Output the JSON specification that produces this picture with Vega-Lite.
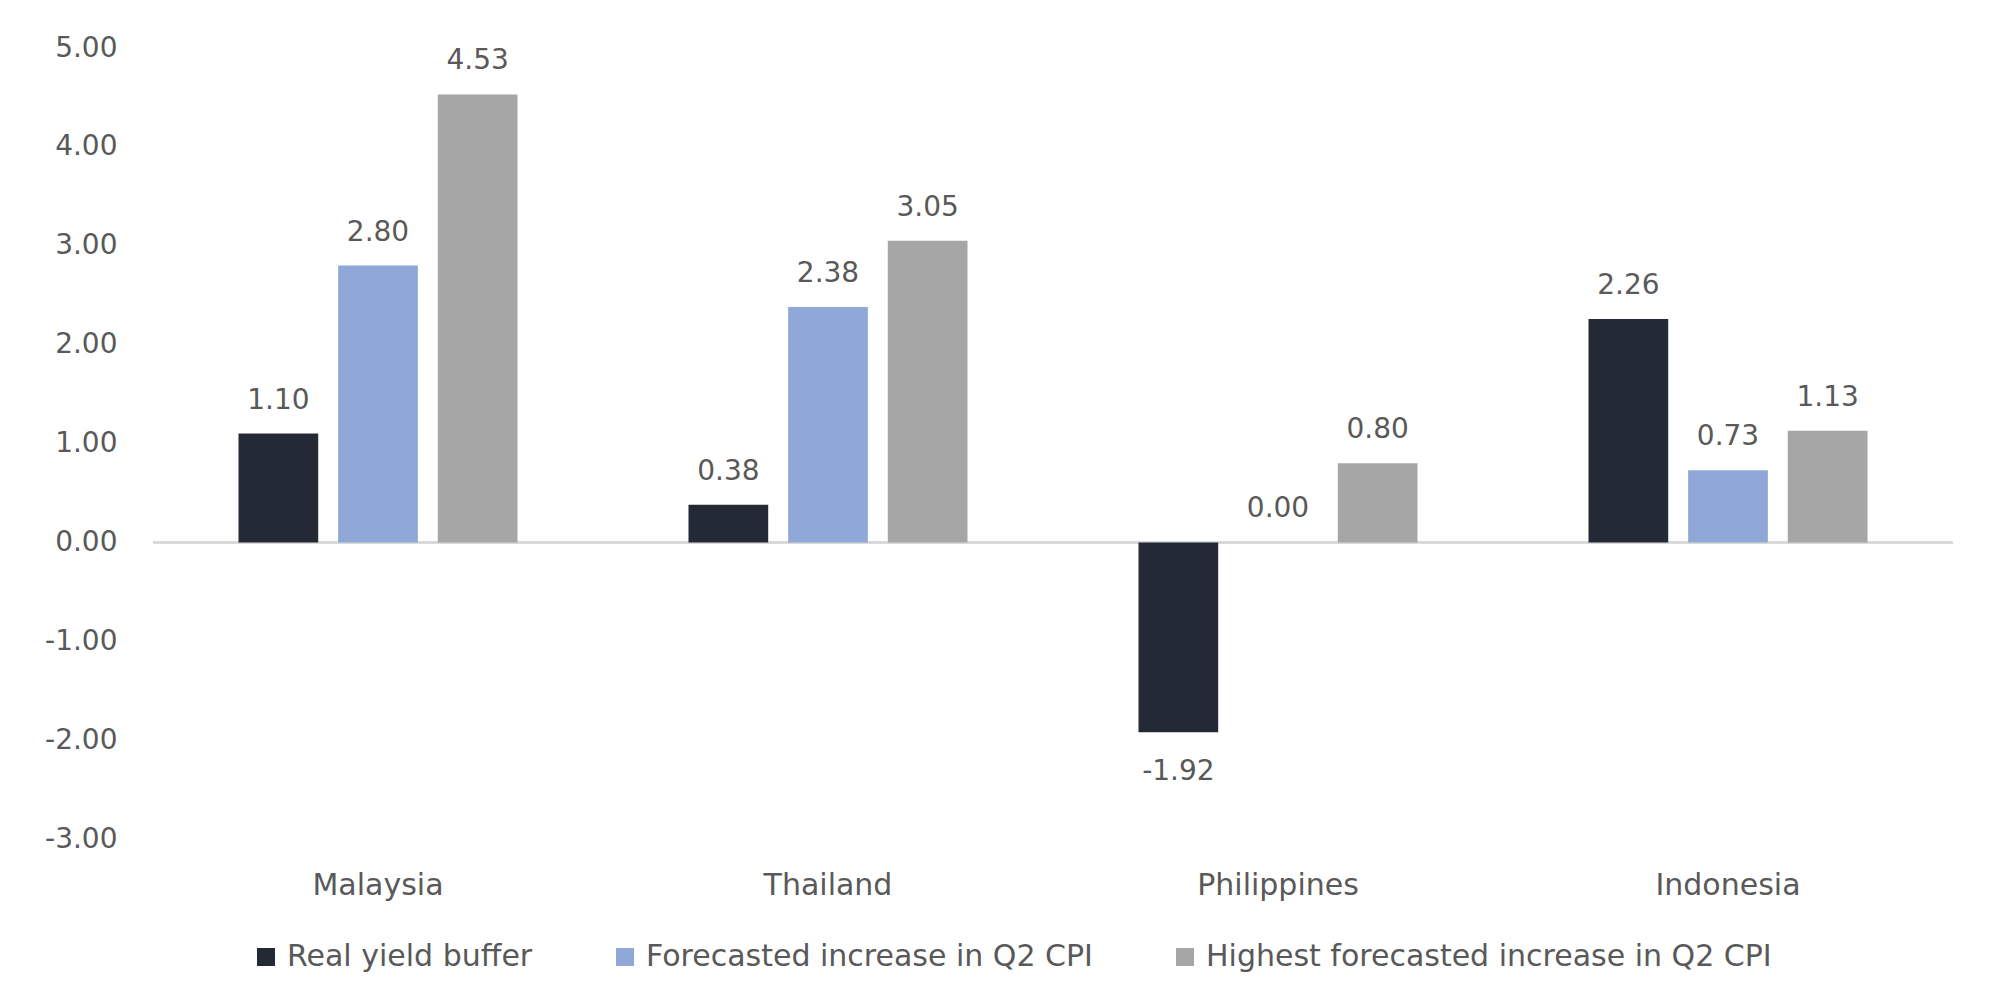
{
  "$schema": "https://vega.github.io/schema/vega-lite/v6.json",
  "autosize": {"type": "none"},
  "padding": {"left": 153, "top": 48, "right": 47, "bottom": 169},
  "width": 1800,
  "height": 791,
  "background": "white",
  "config": {
    "font": "DejaVu Sans",
    "view": {"stroke": null},
    "locale": {
      "number": {"decimal": ".", "thousands": ",", "grouping": [3], "currency": ["$", ""], "minus": "-"}
    }
  },
  "data": {
    "values": [
      {"country": "Malaysia", "series": "Real yield buffer", "value": 1.10},
      {"country": "Malaysia", "series": "Forecasted increase in Q2 CPI", "value": 2.80},
      {"country": "Malaysia", "series": "Highest forecasted increase in Q2 CPI", "value": 4.53},
      {"country": "Thailand", "series": "Real yield buffer", "value": 0.38},
      {"country": "Thailand", "series": "Forecasted increase in Q2 CPI", "value": 2.38},
      {"country": "Thailand", "series": "Highest forecasted increase in Q2 CPI", "value": 3.05},
      {"country": "Philippines", "series": "Real yield buffer", "value": -1.92},
      {"country": "Philippines", "series": "Forecasted increase in Q2 CPI", "value": 0.00},
      {"country": "Philippines", "series": "Highest forecasted increase in Q2 CPI", "value": 0.80},
      {"country": "Indonesia", "series": "Real yield buffer", "value": 2.26},
      {"country": "Indonesia", "series": "Forecasted increase in Q2 CPI", "value": 0.73},
      {"country": "Indonesia", "series": "Highest forecasted increase in Q2 CPI", "value": 1.13}
    ]
  },
  "layer": [
    {
      "mark": {"type": "rule", "color": "#d9d9d9", "strokeWidth": 2},
      "encoding": {
        "y": {
          "datum": 0,
          "type": "quantitative",
          "scale": {"domain": [-3, 5], "nice": false, "zero": false},
          "axis": {
            "title": null, "format": ".2f", "values": [-3, -2, -1, 0, 1, 2, 3, 4, 5],
            "domain": false, "ticks": false, "tickSize": 0, "grid": false,
            "labelPadding": 36, "labelFontSize": 28, "labelColor": "#595959", "labelFont": "DejaVu Sans"
          }
        }
      }
    },
    {
      "mark": {"type": "bar"},
      "encoding": {
        "x": {
          "field": "country", "type": "nominal",
          "sort": ["Malaysia", "Thailand", "Philippines", "Indonesia"],
          "scale": {"paddingInner": 0.38, "paddingOuter": 0.19},
          "axis": {
            "title": null, "domain": false, "ticks": false, "tickSize": 0, "labelAngle": 0,
            "labelPadding": 31, "labelFontSize": 30, "labelColor": "#595959", "labelFont": "DejaVu Sans"
          }
        },
        "xOffset": {
          "field": "series", "type": "nominal",
          "sort": ["Real yield buffer", "Forecasted increase in Q2 CPI", "Highest forecasted increase in Q2 CPI"],
          "scale": {"paddingInner": 0.2, "paddingOuter": 0}
        },
        "y": {
          "field": "value", "type": "quantitative",
          "scale": {"domain": [-3, 5], "nice": false, "zero": false},
          "axis": {
            "title": null, "format": ".2f", "values": [-3, -2, -1, 0, 1, 2, 3, 4, 5],
            "domain": false, "ticks": false, "tickSize": 0, "grid": false,
            "labelPadding": 36, "labelFontSize": 28, "labelColor": "#595959", "labelFont": "DejaVu Sans"
          }
        },
        "y2": {"datum": 0},
        "color": {
          "field": "series", "type": "nominal",
          "sort": ["Real yield buffer", "Forecasted increase in Q2 CPI", "Highest forecasted increase in Q2 CPI"],
          "scale": {
            "domain": ["Real yield buffer", "Forecasted increase in Q2 CPI", "Highest forecasted increase in Q2 CPI"],
            "range": ["#232a36", "#8fa8d8", "#a6a6a6"]
          },
          "legend": {
            "title": null, "orient": "none", "direction": "horizontal",
            "legendX": 98, "legendY": 894,
            "symbolType": "square", "symbolSize": 324, "symbolStrokeWidth": 0, "symbolOpacity": 1,
            "labelFontSize": 30, "labelColor": "#595959", "labelFont": "DejaVu Sans",
            "labelOffset": 6, "columnPadding": 77, "labelLimit": 1000
          }
        }
      }
    },
    {
      "transform": [{"filter": "datum.value >= 0"}],
      "mark": {"type": "text", "baseline": "alphabetic", "align": "center", "dy": -25, "fontSize": 28, "color": "#595959", "font": "DejaVu Sans"},
      "encoding": {
        "x": {"field": "country", "type": "nominal", "sort": ["Malaysia", "Thailand", "Philippines", "Indonesia"]},
        "xOffset": {"field": "series", "type": "nominal", "sort": ["Real yield buffer", "Forecasted increase in Q2 CPI", "Highest forecasted increase in Q2 CPI"]},
        "y": {"field": "value", "type": "quantitative"},
        "text": {"field": "value", "type": "quantitative", "format": ".2f"}
      }
    },
    {
      "transform": [{"filter": "datum.value < 0"}],
      "mark": {"type": "text", "baseline": "top", "align": "center", "dy": 26, "fontSize": 28, "color": "#595959", "font": "DejaVu Sans"},
      "encoding": {
        "x": {"field": "country", "type": "nominal", "sort": ["Malaysia", "Thailand", "Philippines", "Indonesia"]},
        "xOffset": {"field": "series", "type": "nominal", "sort": ["Real yield buffer", "Forecasted increase in Q2 CPI", "Highest forecasted increase in Q2 CPI"]},
        "y": {"field": "value", "type": "quantitative"},
        "text": {"field": "value", "type": "quantitative", "format": ".2f"}
      }
    }
  ]
}
